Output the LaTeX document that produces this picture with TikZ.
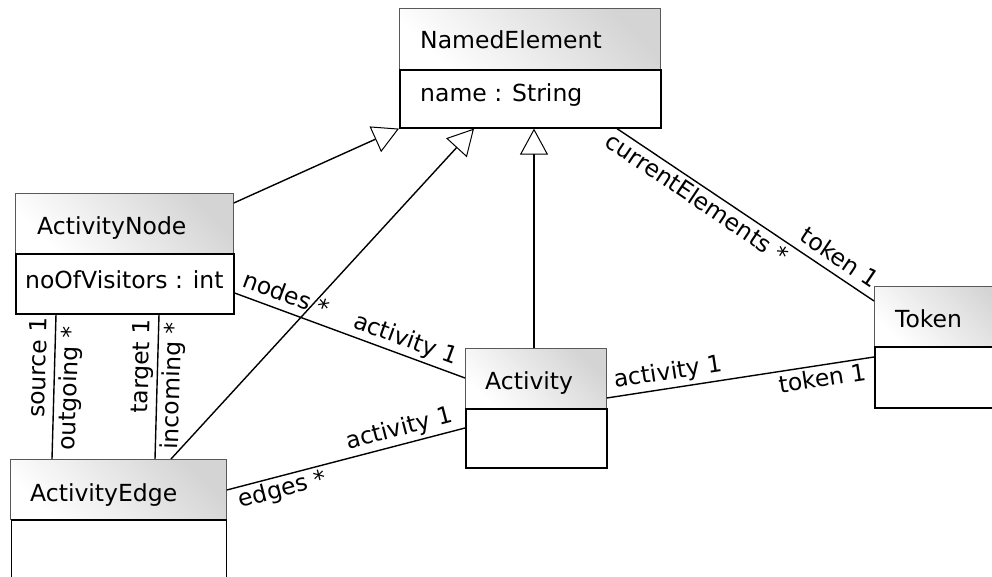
\documentclass[tikz,border=0pt]{standalone}
\usepackage{fontspec}
\setmainfont{DejaVu Sans}
\usetikzlibrary{arrows.meta}
\begin{document}
\begin{tikzpicture}[x=1pt,y=-1pt,
  font=\fontsize{23.5}{28}\selectfont,
  hdr/.style={draw=black!65, line width=0.8pt, top color=gray!34, bottom color=white, shading angle=-45, rectangle, inner sep=0pt, anchor=north west},
  bdy/.style={draw=black, line width=1.6pt, fill=white, rectangle, inner sep=0pt, anchor=north west},
  txt/.style={anchor=base west, inner sep=0pt},
  lbl/.style={sloped, inner sep=2pt, text height=17pt, text depth=5pt},
  assoc/.style={line width=1.4pt},
  gen/.style={line width=1.4pt, -{Triangle[length=26pt,width=28pt,fill=white,line width=1pt]}},
]
\useasboundingbox (0,0) rectangle (992,577);

% NamedElement
\node[hdr, minimum width=261pt, minimum height=61pt] (neh) at (399,8) {};
\node[bdy, minimum width=261pt, minimum height=58pt] (neb) at (399,69) {};
\node[txt] (net) at (420,49) {NamedElement};
\node[txt] (nea) at (420,102) {name : String};

% ActivityNode
\node[hdr, minimum width=218pt, minimum height=60pt] (anh) at (15,193) {};
\node[bdy, minimum width=218pt, minimum height=60pt] (anb) at (15,253) {};
\node[txt] (ant) at (37,235) {ActivityNode};
\node[txt] (ana) at (25,288) {noOfVisitors : int};

% Activity
\node[hdr, minimum width=141pt, minimum height=60pt] (ach) at (465,348) {};
\node[bdy, minimum width=141pt, minimum height=59pt] (acb) at (465,408) {};
\node[txt] (act) at (485,389) {Activity};

% Token
\node[hdr, minimum width=140pt, minimum height=60pt] (tkh) at (874,286) {};
\node[bdy, minimum width=140pt, minimum height=61pt] (tkb) at (874,346) {};
\node[txt] (tkt) at (895,327) {Token};

% ActivityEdge
\node[hdr, minimum width=216pt, minimum height=60pt] (aeh) at (10,459) {};
\node[bdy, minimum width=215pt, minimum height=80pt] (aeb) at (10.5,519) {};
\node[txt] (aet) at (30,501) {ActivityEdge};

% generalizations
\draw[gen] (anh.east |- 0,203) -- (neb.south west);
\draw[gen] (aeh.north -| 171,0) -- (neb.south -| 474,0);
\draw[gen] (ach.north -| 534,0) -- (neb.south -| 534,0);

% associations
\draw[assoc] (neb.south -| 617,0) -- (tkh.west |- 0,301)
  node[lbl, below=2pt, pos=0.34] {currentElements *}
  node[lbl, above=1pt, pos=0.83] {token 1};
\draw[assoc] (anb.east |- 0,293) -- (ach.west |- 0,378)
  node[lbl, above=1pt, pos=0.20] {nodes *}
  node[lbl, above=1pt, pos=0.72] {activity 1};
\draw[assoc] (aeh.east |- 0,490) -- (acb.west |- 0,428)
  node[lbl, below=1pt, pos=0.22] {edges *}
  node[lbl, above=1pt, pos=0.74] {activity 1};
\draw[assoc] (ach.east |- 0,398) -- (tkb.west |- 0,357)
  node[lbl, above=1pt, pos=0.24] {activity 1}
  node[lbl, below=2pt, pos=0.80] {token 1};
\draw[assoc] (aeh.north -| 52,0) -- (anb.south -| 56,0)
  node[lbl, above=1pt, pos=0.63] {source 1}
  node[lbl, below=3pt, pos=0.49] {outgoing *};
\draw[assoc] (aeh.north -| 155,0) -- (anb.south -| 159,0)
  node[lbl, above=1pt, pos=0.64] {target 1}
  node[lbl, below=3pt, pos=0.51] {incoming *};
\end{tikzpicture}
\end{document}
